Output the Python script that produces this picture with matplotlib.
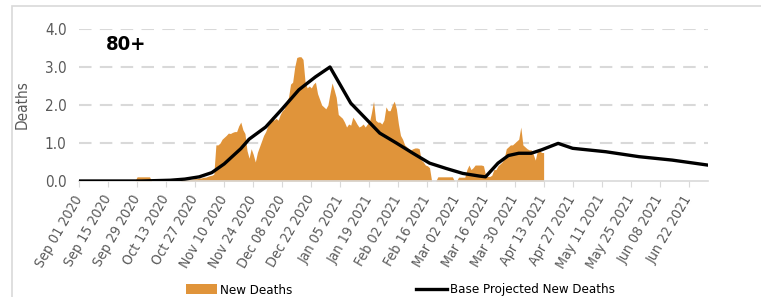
#!/usr/bin/env python3
# -*- coding: utf-8 -*-
# 80+ age group: reported new deaths vs. base projection

import numpy as np
import pandas as pd
import matplotlib
matplotlib.use('Agg')
import matplotlib.pyplot as plt
from matplotlib import font_manager as fm
from matplotlib.patches import Rectangle

# pick a narrow sans face if one is installed
narrow = None
for f in fm.fontManager.ttflist:
    if f.weight in (400, 'normal', 'regular') and f.style == 'normal' and \
            (f.stretch in ('condensed', 'semi-condensed') or 'Narrow' in f.name or 'Condensed' in f.name):
        if 'Mono' in f.name or 'Serif' in f.name:
            continue
        narrow = f
        break
if narrow is not None:
    plt.rcParams['font.family'] = [narrow.name, 'DejaVu Sans']
    plt.rcParams['font.stretch'] = narrow.stretch
    scale = 1.0
else:
    plt.rcParams['font.family'] = ['DejaVu Sans']
    scale = 0.8

# data

# daily new deaths, Sep 01 2020 .. Apr 13 2021
start_date = '2020-09-01'
new_deaths = [
    0, 0, 0, 0, 0, 0, 0, 0, 0, 0, 0, 0, 0, 0, 0, 0, 0, 0, 0, 0,
    0, 0, 0, 0, 0, 0, 0, 0, 0.11, 0.11, 0.11, 0.11, 0.11, 0.11, 0.11, 0, 0, 0, 0, 0,
    0, 0, 0, 0, 0, 0, 0, 0, 0, 0, 0.05, 0.05, 0.05, 0.05, 0.04, 0.05, 0.06, 0.06, 0.08, 0.08,
    0.1, 0.1, 0.12, 0.14, 0.15, 0.18, 0.95, 0.95, 1.0, 1.1, 1.15, 1.2, 1.26, 1.25, 1.28, 1.3,
    1.3, 1.45, 1.55, 1.35, 1.25, 0.8, 0.6, 0.85, 0.7, 0.5, 0.75, 0.9, 1.05, 1.2, 1.3, 1.45,
    1.55, 1.7, 1.6, 1.65, 1.6, 1.75, 1.85, 1.9, 2.1, 2.2, 2.55, 2.6, 3.0, 3.25, 3.27, 3.27,
    3.2, 2.6, 2.45, 2.5, 2.45, 2.55, 2.6, 2.3, 2.15, 2.0, 1.95, 1.9, 2.0, 2.3, 2.58, 2.4,
    2.2, 1.75, 1.7, 1.65, 1.55, 1.42, 1.5, 1.47, 1.68, 1.6, 1.5, 1.42, 1.45, 1.5, 1.42, 1.5,
    1.55, 1.8, 2.1, 1.6, 1.55, 1.55, 1.5, 1.6, 1.95, 1.85, 1.85, 2.0, 2.1, 1.9, 1.5, 1.2,
    1.1, 0.95, 0.9, 0.85, 0.82, 0.85, 0.87, 0.87, 0.85, 0.55, 0.5, 0.42, 0.4, 0.35, 0, 0,
    0, 0.11, 0.11, 0.11, 0.11, 0.11, 0.11, 0.11, 0.11, 0, 0, 0.1, 0.1, 0.1, 0.1, 0.3,
    0.42, 0.3, 0.35, 0.42, 0.42, 0.42, 0.42, 0.4, 0.15, 0.12, 0.12, 0.15, 0.3, 0.3, 0.4, 0.45,
    0.5, 0.6, 0.85, 0.9, 0.95, 0.95, 1.0, 1.05, 1.1, 1.42, 0.95, 0.9, 0.85, 0.82, 0.82, 0.7,
    0.55, 0.8, 0.8, 0.75, 0.75,
]

# base projection
proj_dates = ['2020-09-01', '2020-10-01', '2020-10-15', '2020-10-22', '2020-10-29',
              '2020-11-04', '2020-11-10', '2020-11-13', '2020-11-18', '2020-11-22',
              '2020-11-30', '2020-12-08', '2020-12-16', '2020-12-24', '2020-12-31',
              '2021-01-10', '2021-01-18', '2021-01-24', '2021-02-01', '2021-02-09',
              '2021-02-17', '2021-02-25', '2021-03-05', '2021-03-13', '2021-03-16',
              '2021-03-22', '2021-03-27', '2021-04-01', '2021-04-07', '2021-04-12',
              '2021-04-20', '2021-04-27', '2021-05-13', '2021-05-29', '2021-06-14',
              '2021-07-01']
proj_deaths = [0.0, 0.0, 0.02, 0.05, 0.11, 0.22, 0.45, 0.6, 0.85, 1.1,
               1.42, 1.9, 2.4, 2.74, 3.0, 2.05, 1.6, 1.26, 1.0, 0.73,
               0.47, 0.33, 0.2, 0.13, 0.11, 0.47, 0.67, 0.73, 0.73, 0.82,
               0.99, 0.86, 0.77, 0.64, 0.55, 0.42]

tick_dates = pd.date_range('2020-09-01', '2021-06-22', freq='14D')
y_ticks = [0.0, 1.0, 2.0, 3.0, 4.0]

# style
orange = '#e0943a'
grey_txt = '#595959'
grey_ln = '#d9d9d9'

W, H = 761, 297
fig = plt.figure(figsize=(W/100, H/100), dpi=100)
ax = fig.add_axes([79/W, 1-181/H, (708-79)/W, (181-29)/H])

# outer chart frame
fig.patches.append(Rectangle((12/W, -0.2), 1.2, 1.2-6/H, transform=fig.transFigure,
                             fill=False, ec=grey_ln, lw=1.2))

dates = pd.date_range(start_date, periods=len(new_deaths), freq='D')
ax.fill_between(dates, new_deaths, 0, color=orange, lw=0, label='New Deaths', zorder=2)
ax.plot(pd.to_datetime(proj_dates), proj_deaths, color='k', lw=2.4,
        solid_joinstyle='round', label='Base Projected New Deaths', zorder=3)

for v in y_ticks[1:]:
    ax.axhline(v, color=grey_ln, lw=1.5, dashes=(6, 4), zorder=1)

ax.set_xlim(pd.Timestamp('2020-09-01'), pd.Timestamp('2021-07-01 06:00'))
ax.set_ylim(0, 4.0)
ax.set_yticks(y_ticks)
ax.set_yticklabels(['%.1f' % v for v in y_ticks], color=grey_txt, fontsize=11*scale)
ax.tick_params(axis='y', length=0, pad=9)
ax.set_xticks(tick_dates)
ax.set_xticklabels([d.strftime('%b %d %Y') for d in tick_dates], rotation=60,
                   ha='right', va='center', rotation_mode='anchor',
                   color=grey_txt, fontsize=10.2*scale)
ax.tick_params(axis='x', length=4, color=grey_ln, pad=7)

for s in ['top', 'right', 'left']:
    ax.spines[s].set_visible(False)
ax.spines['bottom'].set_color(grey_ln)
ax.spines['bottom'].set_linewidth(1.2)

ax.set_ylabel('Deaths', color=grey_txt, fontsize=11*scale)
ax.yaxis.set_label_coords(-0.078, 0.5)
ax.text(0.043, 0.895, '80+', transform=ax.transAxes, fontsize=14.5*scale,
        fontweight='bold', va='center', ha='left', color='k')

fig.legend(loc='center left', bbox_to_anchor=(186/W, 1-290/H), ncol=2, frameon=False,
           fontsize=9.5*scale, handlelength=2.35/scale, handletextpad=0.2,
           columnspacing=9.4/scale, borderpad=0, borderaxespad=0)

plt.savefig('out.png', dpi=100)
